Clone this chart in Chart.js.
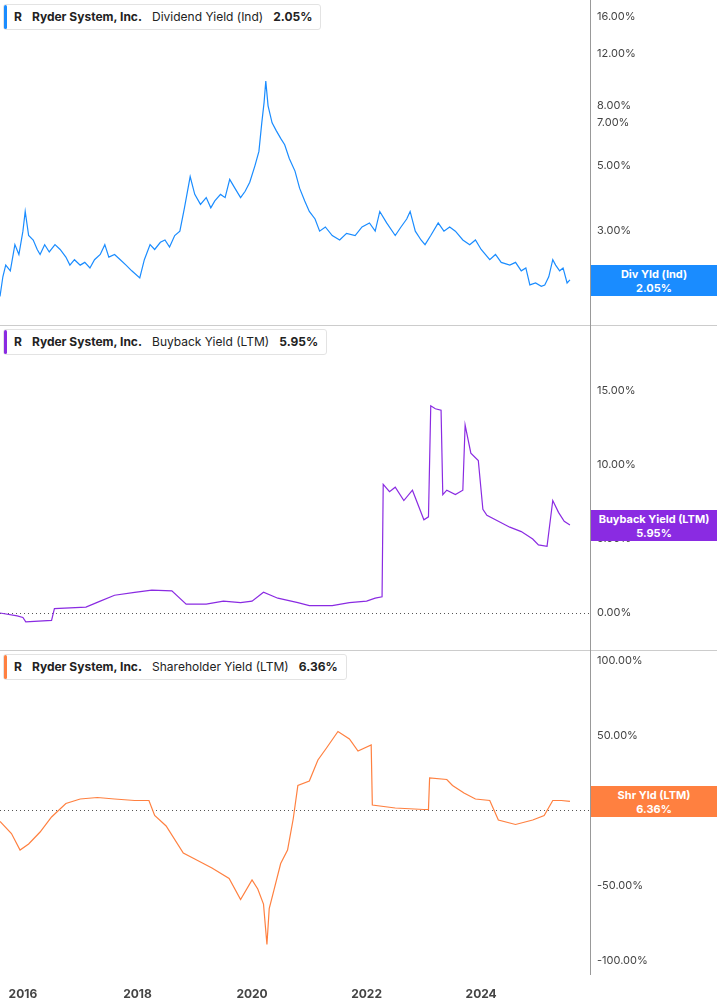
<!DOCTYPE html>
<html><head><meta charset="utf-8">
<script src="https://cdn.jsdelivr.net/npm/chart.js@4"></script>
<style>
body{margin:0;background:#fff;font-family:Inter,"Liberation Sans",Arial,sans-serif;}
.panel{position:absolute;left:0;width:717px;}
.leg{position:absolute;left:3px;top:4px;height:24px;background:#fff;border:1px solid #e3e3e3;border-radius:3px;font-size:12px;color:#222;line-height:24px;padding:0 8px 0 10px;white-space:nowrap;z-index:3}
.leg .bar{position:absolute;left:0;top:0;width:3px;height:24px;border-radius:2px}
.leg b{font-weight:700}
.flag{position:absolute;left:591px;width:126px;height:31px;color:#fff;font-size:11px;font-weight:700;text-align:center;line-height:14px;padding-top:2px;box-sizing:border-box;z-index:3}
.hsep{position:absolute;left:0;width:717px;height:1px;background:#ccc;z-index:2}
.vsep{position:absolute;left:590px;top:0;width:1px;height:975px;background:#999;z-index:2}
</style></head><body>
<div class="panel" style="top:0;height:325px"><canvas id="c1"></canvas></div>
<div class="panel" style="top:325px;height:325px"><canvas id="c2"></canvas></div>
<div class="panel" style="top:650px;height:355px"><canvas id="c3"></canvas></div>
<div class="hsep" style="top:325px"></div>
<div class="hsep" style="top:650px"></div>
<div class="vsep"></div>
<div class="leg" style="top:4px"><span class="bar" style="background:#1a8cff"></span><b>R</b>&nbsp;&nbsp;&nbsp;<b>Ryder System, Inc.</b>&nbsp;&nbsp;&nbsp;Dividend Yield (Ind)&nbsp;&nbsp;&nbsp;<b>2.05%</b></div>
<div class="leg" style="top:329px"><span class="bar" style="background:#8a2be2"></span><b>R</b>&nbsp;&nbsp;&nbsp;<b>Ryder System, Inc.</b>&nbsp;&nbsp;&nbsp;Buyback Yield (LTM)&nbsp;&nbsp;&nbsp;<b>5.95%</b></div>
<div class="leg" style="top:654px"><span class="bar" style="background:#ff8040"></span><b>R</b>&nbsp;&nbsp;&nbsp;<b>Ryder System, Inc.</b>&nbsp;&nbsp;&nbsp;Shareholder Yield (LTM)&nbsp;&nbsp;&nbsp;<b>6.36%</b></div>
<div class="flag" style="top:265px;background:#1a8cff">Div Yld (Ind)<br>2.05%</div>
<div class="flag" style="top:510px;background:#8a2be2">Buyback Yield (LTM)<br>5.95%</div>
<div class="flag" style="top:786px;background:#ff8040">Shr Yld (LTM)<br>6.36%</div>
<script>
// dates as decimal years
const divDates = [2015.6,2015.65,2015.7,2015.78,2015.86,2015.93,2016.0,2016.04,2016.1,2016.18,2016.25,2016.3,2016.38,2016.46,2016.56,2016.65,2016.75,2016.82,2016.9,2017.0,2017.08,2017.17,2017.25,2017.35,2017.43,2017.5,2017.6,2017.7,2017.8,2017.9,2018.04,2018.12,2018.22,2018.3,2018.4,2018.48,2018.56,2018.65,2018.74,2018.82,2018.92,2019.0,2019.1,2019.2,2019.28,2019.35,2019.45,2019.53,2019.61,2019.7,2019.8,2019.88,2019.96,2020.05,2020.12,2020.17,2020.21,2020.24,2020.28,2020.35,2020.42,2020.5,2020.57,2020.65,2020.75,2020.83,2020.92,2021.0,2021.1,2021.18,2021.28,2021.4,2021.53,2021.65,2021.8,2021.92,2022.05,2022.15,2022.23,2022.35,2022.5,2022.6,2022.7,2022.76,2022.85,2022.95,2023.02,2023.12,2023.25,2023.35,2023.45,2023.55,2023.68,2023.8,2023.9,2024.0,2024.15,2024.25,2024.35,2024.5,2024.6,2024.7,2024.78,2024.85,2024.95,2025.05,2025.11,2025.18,2025.25,2025.3,2025.37,2025.43,2025.5,2025.55];
const divYield = [1.8,2.1,2.3,2.2,2.7,2.5,3.0,3.5,2.9,2.8,2.6,2.5,2.7,2.55,2.7,2.6,2.45,2.3,2.4,2.3,2.35,2.25,2.4,2.5,2.7,2.45,2.5,2.4,2.3,2.2,2.08,2.4,2.7,2.6,2.75,2.8,2.65,2.9,3.0,3.6,4.6,4.0,3.7,3.9,3.6,3.8,4.0,3.9,4.5,4.2,3.9,4.1,4.4,5.0,5.6,7.0,8.2,9.7,8.0,7.0,6.6,6.2,5.9,5.3,4.8,4.2,3.8,3.5,3.3,3.0,3.1,2.9,2.8,2.95,2.9,3.1,3.2,3.0,3.5,3.2,2.9,3.1,3.3,3.5,3.0,2.8,2.7,2.9,3.2,3.0,3.1,3.0,2.8,2.7,2.8,2.6,2.4,2.5,2.35,2.3,2.35,2.2,2.25,1.97,2.0,1.95,1.97,2.1,2.4,2.3,2.2,2.25,2.0,2.05];

const bbDates = [2015.6,2015.9,2016.0,2016.05,2016.5,2016.55,2017.1,2017.35,2017.6,2017.95,2018.25,2018.6,2018.85,2019.2,2019.5,2019.8,2020.0,2020.2,2020.45,2020.8,2021.0,2021.4,2021.7,2022.0,2022.15,2022.27,2022.29,2022.4,2022.5,2022.65,2022.8,2023.0,2023.08,2023.12,2023.2,2023.3,2023.33,2023.4,2023.55,2023.68,2023.72,2023.82,2023.95,2024.03,2024.1,2024.3,2024.5,2024.7,2024.9,2025.0,2025.15,2025.25,2025.35,2025.45,2025.55];
const buybackYield = [0,-0.2,-0.3,-0.6,-0.5,0.3,0.4,0.8,1.2,1.4,1.55,1.5,0.6,0.6,0.8,0.7,0.8,1.4,1.0,0.7,0.5,0.5,0.7,0.8,1.0,1.1,8.7,8.2,8.5,7.6,8.3,6.3,6.5,14.0,13.8,13.7,8.0,8.3,8.0,8.3,12.7,10.8,10.3,7.0,6.6,6.2,5.8,5.5,5.0,4.6,4.5,7.6,6.8,6.2,5.95];

const shrDates = [2015.6,2015.8,2015.95,2016.1,2016.3,2016.5,2016.75,2017.0,2017.3,2017.6,2017.95,2018.2,2018.3,2018.5,2018.8,2019.0,2019.3,2019.6,2019.8,2020.0,2020.1,2020.2,2020.26,2020.3,2020.38,2020.5,2020.62,2020.72,2020.8,2021.0,2021.15,2021.3,2021.5,2021.7,2021.85,2022.08,2022.1,2022.5,2023.0,2023.08,2023.1,2023.4,2023.5,2023.7,2023.9,2024.15,2024.3,2024.6,2024.9,2025.1,2025.25,2025.4,2025.55];
const shrYield = [-7,-15,-26,-22,-14,-4,5,8,9,8,7,7,-3,-10,-28,-32,-38,-45,-59,-46,-52,-62,-89,-65,-53,-35,-26,-5,17,20,34,42,53,48,40,44,4,2,1,1,22,21,17,12,8,7,-6,-9,-6,-3,7,7,6.36];

const divTicks = [2,3,5,7,8,12,16];
const bbTicks = [0,5,10,15];
const shrTicks = [-100,-50,0,50,100];
const yearTicks = [2016,2018,2020,2022,2024];

const pts = (xs, ys) => xs.map((x, i) => ({x: x, y: ys[i]}));
const tickFont = {family: 'Inter, Liberation Sans, Arial', size: 11};

function makeChart(id, data, color, yType, yMin, yMax, ticks, showX) {
  new Chart(document.getElementById(id), {
    type: 'line',
    data: {datasets: [{data: data, borderColor: color, borderWidth: 1.2, pointRadius: 0, tension: 0}]},
    options: {
      responsive: true, maintainAspectRatio: false, animation: false,
      layout: {padding: 0},
      plugins: {legend: {display: false}, tooltip: {enabled: false}},
      scales: {
        x: {
          type: 'linear', min: 2015.6, max: 2025.9, display: showX,
          grid: {display: false}, border: {display: false},
          afterBuildTicks: s => { s.ticks = yearTicks.map(v => ({value: v})); },
          afterFit: s => { s.height = showX ? 30 : 0; s.paddingLeft = 0; s.paddingRight = 0; },
          ticks: {color: '#444', font: {family: 'Inter, Liberation Sans, Arial', size: 12, weight: 'bold'}, callback: v => String(v), padding: 4, maxRotation: 0}
        },
        y: {
          type: yType, position: 'right', min: yMin, max: yMax,
          border: {display: false, dash: [1, 3]},
          grid: {drawTicks: false, color: c => c.tick && c.tick.value === 0 ? '#555' : 'rgba(0,0,0,0)'},
          afterBuildTicks: s => { s.ticks = ticks.map(v => ({value: v})); },
          afterFit: s => { s.width = 127; s.paddingTop = 0; s.paddingBottom = 0; },
          ticks: {color: '#444', font: tickFont, padding: 7, callback: v => Number(v).toFixed(2) + '%'}
        }
      }
    }
  });
}

makeChart('c1', pts(divDates, divYield), '#1a8cff', 'logarithmic', 1.44, 18.3, divTicks, false);
makeChart('c2', pts(bbDates, buybackYield), '#8a2be2', 'linear', -2.5, 19.46, bbTicks, false);
makeChart('c3', pts(shrDates, shrYield), '#ff8040', 'linear', -109.3, 107.3, shrTicks, true);
</script>
</body></html>
